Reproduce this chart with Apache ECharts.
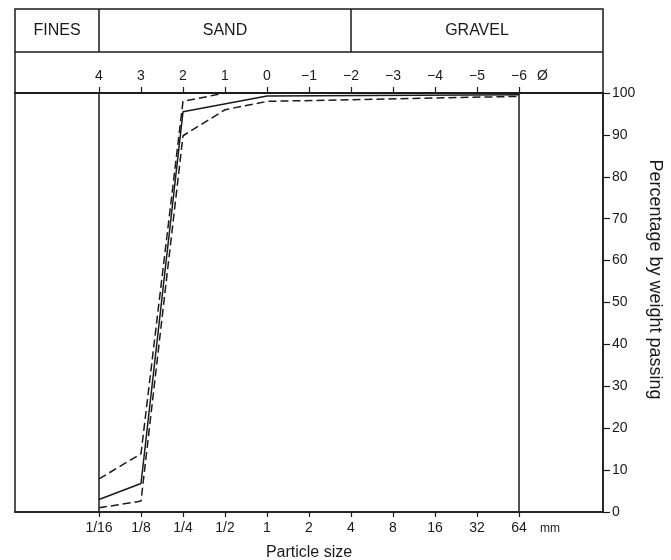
<!DOCTYPE html>
<html>
<head>
<meta charset="utf-8">
<script src="https://cdn.jsdelivr.net/npm/echarts@6/dist/echarts.min.js"></script>
<style>
  html, body { margin: 0; padding: 0; background: #fff; }
  #chart { width: 671px; height: 560px; }
</style>
</head>
<body>
<div id="chart"></div>
<script>
// phi scale ticks and the matching mm sizes
var phiTicks = [4, 3, 2, 1, 0, -1, -2, -3, -4, -5, -6];
var mmLabels = ['1/16', '1/8', '1/4', '1/2', '1', '2', '4', '8', '16', '32', '64'];

// grading curves (phi, % passing)
var solidPhi = [4, 3, 2, 0, -6];
var solidPct = [3, 6.8, 95.5, 99.3, 99.6];
var upperPhi = [4, 3, 2, 1];
var upperPct = [7.9, 13.9, 98, 100];
var lowerPhi = [4, 3, 2, 1, 0, -6];
var lowerPct = [1, 2.6, 89.8, 96, 98, 99.2];

// vertical limits (fines/sand, gravel end)
var limitPhi = [4, -6];

function zip(a, b) {
  return a.map(function (v, i) { return [v, b[i]]; });
}

function phiFmt(v) {
  return v < 0 ? '\u2212' + (-v) : String(v);
}

var ink = '#1a1a1a';
var font = 'Liberation Sans';

var chartDom = document.getElementById('chart');
var myChart = echarts.init(chartDom);
var option;

option = {
  backgroundColor: '#fff',
  animation: false,
  textStyle: { fontFamily: font, color: ink },
  grid: {
    left: 15, right: 68, top: 93, bottom: 48,
    outerBoundsMode: 'none', containLabel: false,
    show: true, borderColor: ink, borderWidth: 1.5
  },
  xAxis: [
    {
      type: 'value', position: 'bottom', min: -8, max: 6, interval: 1, inverse: true,
      name: 'Particle size', nameLocation: 'middle', nameGap: 33,
      nameTextStyle: { fontSize: 16, color: ink, fontFamily: font },
      axisLine: { show: true, onZero: false, lineStyle: { color: ink, width: 1.5 } },
      axisTick: { show: true, length: 5, customValues: phiTicks, lineStyle: { color: ink, width: 1.2 } },
      axisLabel: {
        customValues: phiTicks, margin: 9, fontSize: 14, color: ink, fontFamily: font,
        formatter: function (v) {
          var i = phiTicks.indexOf(v);
          return i >= 0 ? mmLabels[i] : '';
        }
      },
      splitLine: { show: false }
    },
    {
      type: 'value', position: 'top', min: -8, max: 6, interval: 1, inverse: true,
      axisLine: { show: true, onZero: false, lineStyle: { color: ink, width: 1.5 } },
      axisTick: { show: true, length: 6, customValues: phiTicks, lineStyle: { color: ink, width: 1.2 } },
      axisLabel: {
        customValues: phiTicks, margin: 10, fontSize: 14, color: ink, fontFamily: font,
        formatter: phiFmt
      },
      splitLine: { show: false }
    }
  ],
  yAxis: {
    type: 'value', position: 'right', min: 0, max: 100, interval: 10,
    name: 'Percentage by weight passing', nameLocation: 'middle', nameRotate: -90, nameGap: 36,
    nameTextStyle: { fontSize: 18, color: ink, fontFamily: font, padding: [0, 46, 0, 0] },
    axisLine: { show: true, onZero: false, lineStyle: { color: ink, width: 1.5 } },
    axisTick: { show: true, length: 7, lineStyle: { color: ink, width: 1.2 } },
    axisLabel: { margin: 9, fontSize: 14, color: ink, fontFamily: font },
    splitLine: { show: false }
  },
  graphic: [
    { type: 'rect', shape: { x: 15, y: 9, width: 588, height: 84 }, style: { fill: 'none', stroke: ink, lineWidth: 1.5 } },
    { type: 'line', shape: { x1: 15, y1: 52, x2: 603, y2: 52 }, style: { stroke: ink, lineWidth: 1.5 } },
    { type: 'line', shape: { x1: 99, y1: 9, x2: 99, y2: 52 }, style: { stroke: ink, lineWidth: 1.5 } },
    { type: 'line', shape: { x1: 351, y1: 9, x2: 351, y2: 52 }, style: { stroke: ink, lineWidth: 1.5 } },
    { type: 'text', x: 57, y: 31, style: { text: 'FINES', font: '16px "Liberation Sans"', fill: ink, textAlign: 'center', textVerticalAlign: 'middle' } },
    { type: 'text', x: 225, y: 31, style: { text: 'SAND', font: '16px "Liberation Sans"', fill: ink, textAlign: 'center', textVerticalAlign: 'middle' } },
    { type: 'text', x: 477, y: 31, style: { text: 'GRAVEL', font: '16px "Liberation Sans"', fill: ink, textAlign: 'center', textVerticalAlign: 'middle' } },
    { type: 'text', x: 537, y: 76, style: { text: '\u00d8', font: '14px "Liberation Sans"', fill: ink, textAlign: 'left', textVerticalAlign: 'middle' } },
    { type: 'text', x: 540, y: 529, style: { text: 'mm', font: '12px "Liberation Sans"', fill: ink, textAlign: 'left', textVerticalAlign: 'middle' } }
  ],
  series: [
    {
      type: 'line', xAxisIndex: 0, data: zip(solidPhi, solidPct), symbol: 'none',
      lineStyle: { color: ink, width: 1.5, type: 'solid' },
      markLine: {
        silent: true, symbol: 'none', label: { show: false },
        lineStyle: { color: ink, width: 1.5, type: 'solid' },
        data: limitPhi.map(function (p) { return { xAxis: p }; })
      }
    },
    {
      type: 'line', xAxisIndex: 0, data: zip(upperPhi, upperPct), symbol: 'none',
      lineStyle: { color: ink, width: 1.5, type: [8, 4] }
    },
    {
      type: 'line', xAxisIndex: 0, data: zip(lowerPhi, lowerPct), symbol: 'none',
      lineStyle: { color: ink, width: 1.5, type: [8, 4] }
    }
  ]
};

option && myChart.setOption(option);
</script>
</body>
</html>
